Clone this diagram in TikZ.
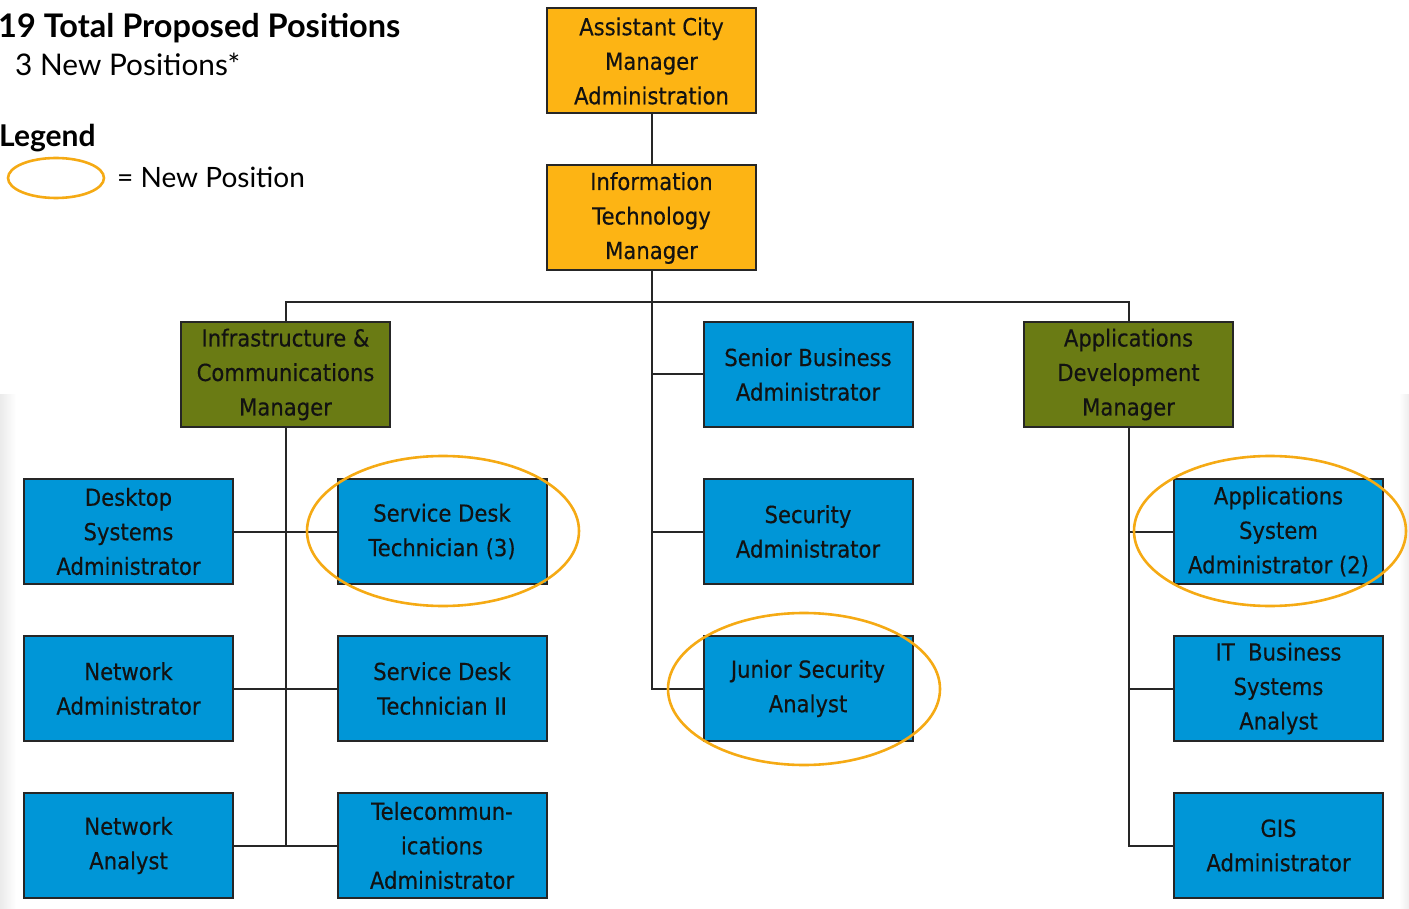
\documentclass[tikz,border=0pt]{standalone}
\usepackage{fontspec}
\setmainfont{Lato}
\newfontfamily\boxfont[FakeStretch=0.9,FakeBold=0.35]{DejaVu Sans}
\usetikzlibrary{positioning}
\definecolor{orgfill}{HTML}{FDB414}
\definecolor{olivefill}{HTML}{6A7B14}
\definecolor{bluefill}{HTML}{0096D7}
\definecolor{ringcol}{HTML}{F5AA14}
\definecolor{boxtext}{HTML}{121212}
\tikzset{
  posbox/.style={draw=black!85, line width=2pt, minimum width=209pt, minimum height=105pt,
    align=center, inner sep=0pt, text=boxtext, font=\boxfont\fontsize{23.5}{34.5}\selectfont},
  topbox/.style={posbox, fill=orgfill},
  mgrbox/.style={posbox, fill=olivefill},
  staffbox/.style={posbox, fill=bluefill},
  link/.style={draw=black!85, line width=2pt},
  newpos/.style={draw=ringcol, line width=2.6pt},
  heading/.style={anchor=base west, inner sep=0pt, text=black},
}
\begin{document}
\begin{tikzpicture}[x=1pt,y=-1pt]
\useasboundingbox (0,0) rectangle (1409,909);
% faint side strips
\shade[left color=black!8, right color=white] (0,395) rectangle (16,909);
\shade[left color=white, right color=black!7] (1399,395) rectangle (1409,909);

% headings and legend
\node[heading, font=\bfseries\fontsize{32.5}{38}\selectfont] (title) at (-2,38) {19 Total Proposed Positions};
\node[heading, font=\fontsize{29.8}{34}\selectfont] (sub) at (15,76) {3 New Positions*};
\node[heading, font=\bfseries\fontsize{30}{34}\selectfont] (leg) at (-1,147) {Legend};
\draw[newpos] (56,178) ellipse [x radius=48, y radius=20];
\node[heading, font=\fontsize{28}{34}\selectfont] (legtxt) at (117,188) {= New Position};

% boxes
\node[topbox] (acm) at (651.5,61) {Assistant City\\Manager\\Administration};
\node[topbox] (itm) at (651.5,218) {Information\\Technology\\Manager};
\node[mgrbox] (icm) at (285.5,374.5) {Infrastructure \&\\Communications\\Manager};
\node[staffbox] (sba) at (808,374.5) {Senior Business\\Administrator};
\node[mgrbox] (adm) at (1128.5,374.5) {Applications\\Development\\Manager};

\node[staffbox] (dsa) at (128.5,531.5) {Desktop\\Systems\\Administrator};
\node[staffbox] (sdt) at (442,531.5) {Service Desk\\Technician (3)};
\node[staffbox] (sec) at (808,531.5) {Security\\Administrator};
\node[staffbox] (asa) at (1278.5,531.5) {Applications\\System\\Administrator (2)};

\node[staffbox] (nad) at (128.5,688.5) {Network\\Administrator};
\node[staffbox] (sdt2) at (442,688.5) {Service Desk\\Technician II};
\node[staffbox] (jsa) at (808,688.5) {Junior Security\\Analyst};
\node[staffbox] (itb) at (1278.5,688.5) {IT\ \ Business\\Systems\\Analyst};

\node[staffbox] (nan) at (128.5,845.5) {Network\\Analyst};
\node[staffbox] (tel) at (442,845.5) {Telecommun-\\ications\\Administrator};
\node[staffbox] (gis) at (1278.5,845.5) {GIS\\Administrator};

% connectors
\draw[link] (acm) -- (itm);
\draw[link] (icm.north) -- ++(0,-19) -| (adm.north);
\draw[link] (itm.south) |- (jsa.west);
\draw[link] (sba.west) -- (sba.west -| itm.south);
\draw[link] (sec.west) -- (sec.west -| itm.south);

\draw[link] (icm.south) -- (icm.south |- nan.east);
\draw[link] (dsa.east) -- (sdt.west);
\draw[link] (nad.east) -- (sdt2.west);
\draw[link] (nan.east) -- (tel.west);

\draw[link] (adm.south) |- (gis.west);
\draw[link] (asa.west) -- (asa.west -| adm.south);
\draw[link] (itb.west) -- (itb.west -| adm.south);

% new-position rings
\draw[newpos] (443,531) ellipse [x radius=136, y radius=75];
\draw[newpos] (804,689) ellipse [x radius=136, y radius=76];
\draw[newpos] (1270,531) ellipse [x radius=136, y radius=75];
\end{tikzpicture}
\end{document}
